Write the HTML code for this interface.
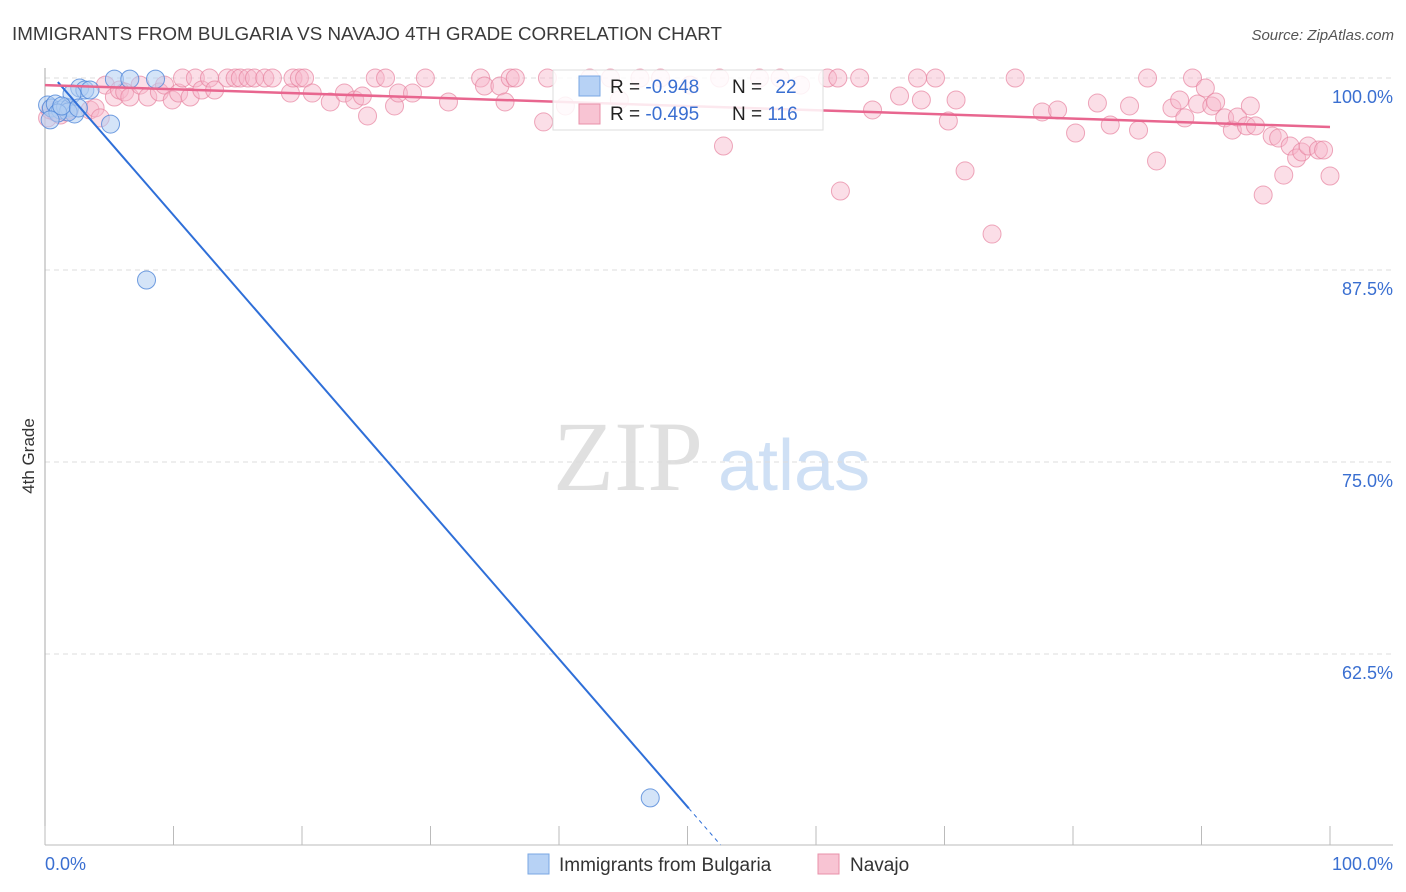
<!DOCTYPE html>
<html><head><meta charset="utf-8"><style>
body{margin:0;background:#fff;font-family:"Liberation Sans",sans-serif;}
svg{display:block}
</style></head><body>
<svg id="chart" width="1406" height="892" xmlns="http://www.w3.org/2000/svg">
<text x="12" y="40" font-size="18.5" fill="#3a3a3a" textLength="710" lengthAdjust="spacingAndGlyphs">IMMIGRANTS FROM BULGARIA VS NAVAJO 4TH GRADE CORRELATION CHART</text>
<text x="1394" y="40" font-size="15" fill="#555" text-anchor="end" font-style="italic">Source: ZipAtlas.com</text>
<text x="553" y="490" font-size="100" fill="#e0e0e0" font-family="Liberation Serif, serif">ZIP</text>
<text x="718" y="490" font-size="72" fill="#cfe0f5">atlas</text>
<text transform="translate(34,456) rotate(-90)" font-size="17" fill="#333" text-anchor="middle">4th Grade</text>
<g id="grid"></g><g id="pts"></g><g id="lines"></g>
<g>
<rect x="553" y="70" width="270" height="60" fill="#fff" fill-opacity="0.85" stroke="#ddd"/>
<rect x="579" y="76" width="21" height="20" fill="#b7d2f5" stroke="#7aa7e3"/>
<rect x="579" y="104" width="21" height="20" fill="#f8c4d3" stroke="#e890aa"/>
<text x="610" y="93" font-size="19" fill="#222">R = <tspan fill="#3a6fd1">-0.948</tspan></text>
<text x="732" y="93" font-size="19" fill="#222">N = <tspan fill="#3a6fd1" dx="8">22</tspan></text>
<text x="610" y="120" font-size="19" fill="#222">R = <tspan fill="#3a6fd1">-0.495</tspan></text>
<text x="732" y="120" font-size="19" fill="#222">N = <tspan fill="#3a6fd1">116</tspan></text>
</g>
<g>
<rect x="528" y="854" width="21" height="20" fill="#b7d2f5" stroke="#7aa7e3"/>
<text x="559" y="871" font-size="19" fill="#333">Immigrants from Bulgaria</text>
<rect x="818" y="854" width="21" height="20" fill="#f8c4d3" stroke="#e890aa"/>
<text x="850" y="871" font-size="19" fill="#333">Navajo</text>
</g>
</svg>
<script>
const yTicks=[100,87.5,75,62.5];
const yTickLabels=["100.0%","87.5%","75.0%","62.5%"];
const xTickLabels=["0.0%","100.0%"];
const blueX=[0.2,0.5,0.8,1.2,1.6,1.9,2.3,2.7,3.1,3.5,5.1,5.4,6.6,8.6,7.9,47.1,2.1,1.8,1.0,1.3,2.6,0.4];
const blueY=[98.24,98.05,98.31,97.92,98.11,98.05,97.66,99.35,99.22,99.22,97.0,99.93,99.93,99.93,86.85,53.13,98.96,97.79,97.72,98.18,98.05,97.27];
const pinkX=[0.2,0.4,0.8,1.2,1.6,1.9,3.5,3.9,4.3,4.7,5.4,5.8,6.2,6.6,7.4,8.0,8.9,9.3,9.9,10.4,10.7,11.3,11.7,12.2,12.8,13.2,14.2,14.8,15.2,15.8,16.3,17.1,17.7,19.1,19.3,19.8,20.2,20.8,22.2,23.3,24.1,24.7,25.1,25.7,26.5,27.2,27.5,28.6,29.6,31.4,33.9,34.2,35.4,35.8,36.2,36.6,38.8,39.1,40.5,42.4,44.0,44.7,46.3,47.9,50.2,52.5,52.8,55.6,57.2,58.8,60.9,61.7,61.9,63.4,64.4,66.5,67.9,68.2,69.3,70.3,70.9,71.6,73.7,75.5,77.6,78.8,80.2,81.9,82.9,84.4,85.1,85.8,86.5,87.7,88.3,88.7,89.3,89.7,90.3,90.8,91.1,91.8,92.4,92.8,93.5,93.8,94.2,94.8,95.5,96.0,96.4,96.9,97.4,97.8,98.3,99.1,99.5,100];
const pinkY=[97.40,97.92,97.79,97.59,97.79,97.92,97.92,98.05,97.40,99.54,98.76,99.22,99.09,98.76,99.54,98.76,99.09,99.54,98.57,99.02,100,98.76,100,99.22,100,99.22,100,100,100,100,100,100,100,99.02,100,100,100,99.02,98.44,99.02,98.57,98.83,97.53,100,100,98.18,99.02,99.02,100,98.44,100,99.48,99.48,98.44,100,100,97.14,100,98.18,100,100,98.57,100,100,99.54,100,95.57,100,100,99.54,100,100,92.64,100,97.92,98.83,100,98.57,100,97.20,98.57,93.95,89.84,100,97.79,97.92,96.42,98.37,96.94,98.18,96.61,100,94.60,98.05,98.57,97.40,100,98.31,99.35,98.18,98.44,97.40,96.61,97.46,96.88,98.18,96.88,92.38,96.22,96.09,93.68,95.57,94.79,95.18,95.57,95.31,95.31,93.62];
const blueFit=[100.70,-0.963]; const pinkFit=[99.54,-0.0273];
const NS="http://www.w3.org/2000/svg";
const X0=45,X1=1330,Y100=78,PXPER=15.36,YB=845;
const xs=v=>X0+(X1-X0)*v/100, ys=v=>Y100+(100-v)*PXPER;
function mk(t,a,p){const e=document.createElementNS(NS,t);for(const k in a)e.setAttribute(k,a[k]);document.getElementById(p).appendChild(e);return e;}
yTicks.forEach((t,i)=>{
 const l=mk('line',{x1:X0,x2:1393,y1:ys(t),y2:ys(t),stroke:'#ddd','stroke-dasharray':'5,4'},'grid');
 
 
 const tx=mk('text',{x:1393,y:ys(t)+25,'font-size':18,fill:'#3a6fd1','text-anchor':'end'},'grid');tx.textContent=yTickLabels[i];
 
 
});
let ax=mk('line',{x1:X0,x2:X0,y1:68,y2:YB,stroke:'#aaa'},'grid');


let bx=mk('line',{x1:X0,x2:1393,y1:YB,y2:YB,stroke:'#bbb'},'grid');


for(let i=0;i<=10;i++){const t=mk('line',{x1:xs(i*10),x2:xs(i*10),y1:826,y2:YB,stroke:'#bbb'},'grid');
 
 }
[[0,'start',45],[100,'end',1393]].forEach((d,i)=>{const t=mk('text',{x:d[2],y:870,'font-size':18,fill:'#3a6fd1','text-anchor':d[1]},'grid');t.textContent=xTickLabels[i];
 
 });
pinkX.forEach((x,i)=>{const c=mk('circle',{cx:xs(x),cy:ys(pinkY[i]),r:9,fill:'#f6b6ca','fill-opacity':0.45,stroke:'#e7839f','stroke-opacity':0.7},'pts');
 
 });
blueX.forEach((x,i)=>{const c=mk('circle',{cx:xs(x),cy:ys(blueY[i]),r:9,fill:'#b0cdf3','fill-opacity':0.55,stroke:'#4f86d8','stroke-opacity':0.8},'pts');
 
 });
const bf=x=>blueFit[0]+blueFit[1]*x, pf=x=>pinkFit[0]+pinkFit[1]*x;
const xEnd=50.1, xBottom=(50.07-blueFit[0])/blueFit[1];
let l1=mk('line',{x1:xs(1),y1:ys(bf(1)),x2:xs(xEnd),y2:ys(bf(xEnd)),stroke:'#2f6fd8','stroke-width':2},'lines');


let l2=mk('line',{x1:xs(xEnd),y1:ys(bf(xEnd)),x2:xs(xBottom),y2:ys(bf(xBottom)),stroke:'#2f6fd8','stroke-width':1,'stroke-dasharray':'4,4'},'lines');


let l3=mk('line',{x1:xs(0),y1:ys(pf(0)),x2:xs(100),y2:ys(pf(100)),stroke:'#e8668f','stroke-width':2.5},'lines');


</script>
</body></html>
